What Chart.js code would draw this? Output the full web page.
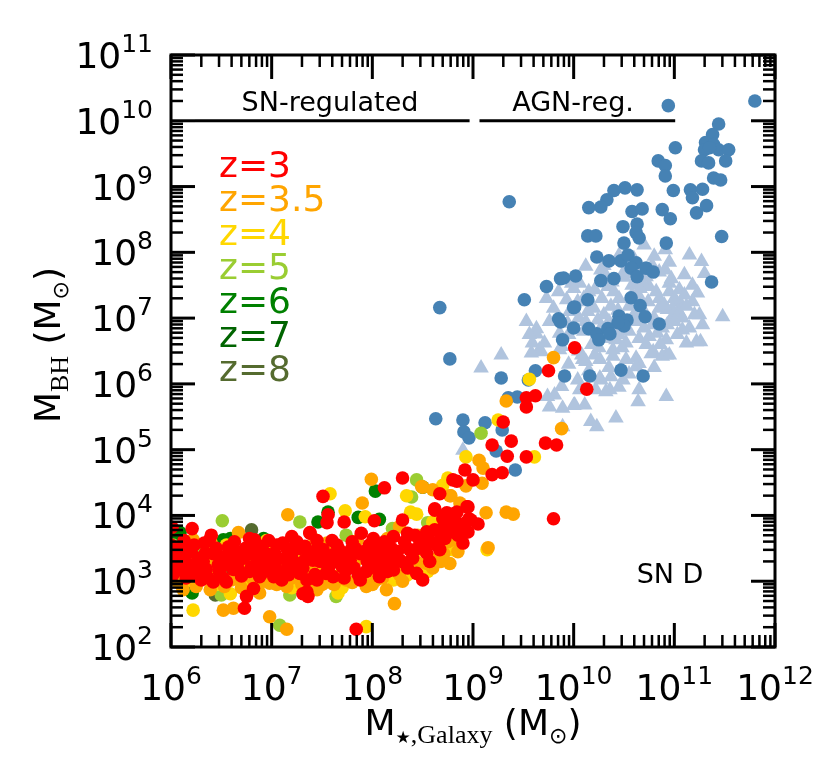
<!DOCTYPE html>
<html>
<head>
<meta charset="utf-8">
<script src="https://cdn.jsdelivr.net/npm/chart.js@4.4.0/dist/chart.umd.min.js"></script>
<style>
  html, body { margin: 0; padding: 0; background: #fff; }
</style>
</head>
<body>
<canvas id="chart" width="831" height="769"></canvas>
<script>
// all point values are log10(M / Msun): [log M*, log MBH]
const logZ3 = [
  [10.01,6.55],[9.75,6.20],[10.13,5.92],[9.53,5.79],[9.62,5.82],[9.53,5.65],[9.30,5.42],[9.38,5.13],
  [9.19,5.07],[9.72,5.10],[9.83,5.07],[9.34,4.90],[9.53,4.89],[9.29,4.65],[9.19,4.62],[9.00,4.54],
  [8.92,4.69],[8.84,4.52],[8.67,4.33],[8.62,4.10],[8.76,4.02],[8.81,4.02],[8.95,4.13],[8.96,3.95],
  [9.05,3.87],[9.80,3.95],[8.80,4.54],[8.74,4.04],[8.84,4.05],[8.94,4.13],[8.30,4.57],[8.12,4.42],
  [7.51,4.29],[7.55,3.89],[7.56,4.01],[7.72,3.90],[8.02,3.92],[8.30,3.93],[8.62,4.08],[8.88,3.81],
  [6.21,3.80],[6.40,3.70],[6.38,3.62],[6.78,3.65],[6.83,3.63],[7.05,3.55],[7.20,3.68],[7.25,3.60],
  [7.33,3.53],[7.38,3.73],[7.89,3.73],[8.01,3.65],[7.97,3.55],[8.12,3.60],[8.21,3.68],[8.35,3.73],
  [8.42,3.70],[8.54,3.75],[8.62,3.78],[8.70,3.80],[8.77,3.88],[8.88,3.80],[8.98,3.93],[8.90,3.58],
  [8.67,3.48],[8.54,3.43],[8.45,3.50],[8.37,3.48],[8.27,3.32],[8.21,3.30],[8.17,3.40],[8.07,3.45],
  [8.01,3.37],[7.88,3.42],[7.79,3.48],[7.78,3.32],[7.69,3.37],[7.61,3.40],[7.51,3.48],[7.48,3.30],
  [7.41,3.32],[7.33,3.32],[7.20,3.42],[7.13,3.35],[7.05,3.32],[6.98,3.40],[6.92,3.45],[6.85,3.37],
  [6.78,3.42],[6.72,3.35],[6.65,3.45],[6.60,3.32],[6.50,3.37],[6.42,3.42],[6.34,3.42],[6.27,3.35],
  [6.16,3.27],[6.07,3.27],[6.09,3.17],[6.25,3.12],[6.30,3.02],[6.42,2.99],[6.55,2.99],[6.67,3.17],
  [6.78,3.15],[6.88,3.07],[7.02,3.07],[7.10,3.02],[7.16,3.22],[7.28,3.12],[7.35,3.02],[7.35,2.84],
  [7.45,3.02],[7.54,3.12],[7.61,3.07],[7.74,3.17],[7.88,3.02],[7.94,3.15],[8.07,3.07],[8.21,3.17],
  [8.29,3.30],[8.44,3.12],[8.50,3.02],[7.31,2.81],[7.36,2.77],[6.75,2.77],[6.73,2.59],[6.82,2.89],
  [7.84,2.27],[6.02,3.50],[6.12,3.55],[6.20,3.45],[6.47,3.25],[6.57,3.52],[6.62,3.18],[6.90,3.25],
  [7.00,3.20],[7.15,3.50],[7.25,3.18],[7.42,3.45],[7.58,3.25],[7.65,3.55],[7.72,3.05],[7.82,3.20],
  [7.95,3.30],[8.05,3.20],[8.12,3.28],[8.35,3.20],[8.58,3.60],[8.72,3.65],[8.85,3.70],[8.95,3.75],
  [6.02,3.10],[6.15,3.05],[6.35,3.18],[6.55,3.25],[7.45,3.62],[7.60,3.62],[7.80,3.60],[6.03,3.35],
  [6.00,3.55],[6.01,3.82],[7.38,3.74],
  [6.05,3.20],[6.10,3.38],[6.13,3.62],[6.18,3.10],[6.23,3.55],[6.26,3.22],[6.32,3.30],[6.33,3.58],
  [6.37,3.05],[6.45,3.50],[6.48,3.15],[6.52,3.05],[6.58,3.40],[6.63,3.60],[6.66,3.27],[6.70,3.08],
  [6.74,3.50],[6.80,3.22],[6.86,3.55],[6.90,3.12],[6.95,3.30],[6.97,3.62],[7.03,3.42],[7.07,3.15],
  [7.11,3.58],[7.17,3.10],[7.22,3.30],[7.28,3.50],[7.31,3.20],[7.37,3.40],[7.43,3.10],[7.47,3.50],
  [7.52,3.38],[7.56,3.18],[7.63,3.30],[7.67,3.48],[7.70,3.22],[7.76,3.40],[7.83,3.50],[7.86,3.10],
  [7.92,3.45],[7.98,3.20],[8.03,3.55],[8.09,3.35],[8.15,3.15],[8.19,3.50],[8.25,3.45],[8.32,3.60],
  [8.40,3.35],[8.47,3.62],[8.52,3.55],[8.57,3.30],[8.64,3.55],[8.68,3.70],[8.80,3.75],[8.83,3.90],
  [8.92,3.88],[8.70,3.95]
];
const logZ35 = [
  [6.07,2.99],[6.22,3.07],[6.49,3.10],[6.68,3.02],[6.88,2.82],[7.15,2.92],[7.41,2.92],[7.56,2.99],
  [7.68,3.10],[8.04,3.02],[8.27,3.10],[8.54,3.27],[8.64,3.35],[8.77,3.27],[6.52,2.56],[6.62,2.59],
  [6.98,2.46],[7.15,2.27],[8.22,2.66],[6.22,3.63],[6.67,3.74],[7.43,3.63],[7.16,4.01],[7.90,4.19],
  [7.99,4.55],[8.50,4.43],[8.80,3.63],[8.71,3.42],[6.45,3.27],[6.75,3.25],[6.96,3.19],[7.25,3.25],
  [7.40,3.17],[7.71,3.25],[7.84,3.32],[8.14,3.22],[8.40,3.37],[6.29,3.22],[6.00,3.37],[6.11,3.48],
  [6.02,3.12],[6.82,3.02],[7.94,2.92],[7.74,3.02],[7.45,2.87],[8.14,2.87],[7.58,3.53],[8.27,3.83],
  [7.08,3.17],[6.98,2.97],[6.39,2.87],[6.12,2.87],[9.06,4.84],[9.10,4.72],[9.09,4.49],[8.93,4.45],
  [9.33,4.05],[9.40,4.02],[9.13,4.04],[9.88,5.32],[9.33,5.74],[8.87,4.19],[8.78,4.30],[8.60,4.39],
  [9.15,3.51],[8.49,4.44],[8.77,4.30],[8.88,4.16],[9.80,6.40],
  [6.04,3.05],[6.10,2.95],[6.17,3.35],[6.25,2.92],[6.33,3.05],[6.43,3.12],[6.53,2.92],[6.60,3.02],
  [6.70,2.90],[6.78,3.08],[6.92,3.00],[7.05,2.95],[7.20,3.05],[7.30,2.95],[7.38,3.10],[7.50,2.95],
  [7.62,2.95],[7.80,2.98],[7.90,3.08],[8.00,2.95],[8.10,3.05],[8.30,3.00],[8.38,3.20],[8.45,3.28],
  [8.60,3.20],[8.68,3.30],[8.85,3.45],[6.40,3.58],[6.60,3.55],[6.95,3.50],[7.25,3.55],[7.55,3.58],
  [7.85,3.62],[8.15,3.65],[8.45,3.70],[8.75,3.60]
];
const logZ4 = [
  [6.22,2.56],[6.59,2.81],[7.66,2.82],[7.94,2.31],[6.55,3.55],[7.73,4.07],[7.58,4.33],[7.93,3.98],
  [8.34,4.30],[8.38,4.05],[8.44,4.02],[8.70,4.46],[8.80,3.48],[6.09,3.53],[6.35,3.12],[6.88,3.48],
  [7.28,3.37],[7.61,3.02],[8.01,3.22],[8.21,3.02],[8.47,3.48],[7.15,3.17],[6.72,2.97],[9.61,4.89],
  [9.25,5.45],[8.93,4.89],[8.75,4.57],[9.56,6.07],[9.14,3.48],[6.05,3.25],[6.40,3.35],[7.50,3.20],
  [8.75,3.55],[8.60,3.90],[6.95,3.62],
  [6.15,3.00],[6.45,2.95],[6.85,3.15],[7.20,2.90],[7.40,3.00],[7.70,2.90],[8.00,3.10],[8.35,3.10],
  [8.55,3.15],[6.30,3.30]
];
const logZ5 = [
  [6.51,3.92],[7.28,3.90],[7.74,3.70],[8.44,4.54],[8.39,4.28],[8.55,3.89],[7.08,2.33],[7.18,2.79],
  [6.83,2.92],[6.50,2.79],[7.64,2.77],[6.02,3.55],[9.08,5.25],[6.30,3.50],[8.20,3.80]
];
const logZ6 = [
  [6.09,3.74],[6.52,3.63],[6.59,3.65],[6.92,3.65],[6.98,3.55],[7.46,3.90],[7.56,4.05],[7.86,3.97],
  [8.03,4.37],[8.50,4.43],[6.21,2.82],[8.07,3.94],[6.03,3.65]
];
const logZ7 = [[6.15,3.40],[6.70,3.30],[7.00,3.50],[6.35,3.10]];
const logZ8 = [[6.80,3.78],[6.44,2.79],[6.60,3.15]];
const logAgnCircles = [
  [10.94,10.23],[11.80,10.30],[11.44,9.95],[11.38,9.79],[11.31,9.67],[11.39,9.64],[11.44,9.56],[11.30,9.56],
  [11.35,9.59],[11.01,9.59],[11.54,9.56],[10.84,9.39],[10.91,9.32],[10.91,9.16],[11.27,9.39],[11.34,9.36],
  [11.51,9.39],[11.39,9.13],[11.46,9.10],[10.51,8.98],[10.40,8.94],[10.63,8.95],[10.99,8.94],[11.16,8.95],
  [11.18,8.83],[11.28,8.96],[10.33,8.80],[10.27,8.69],[10.15,8.68],[10.58,8.62],[10.68,8.66],[10.88,8.65],
  [11.22,8.60],[11.32,8.71],[10.96,8.51],[10.49,8.39],[10.63,8.43],[10.62,8.30],[10.65,8.22],[10.14,8.25],
  [10.22,8.25],[10.50,8.14],[10.92,8.14],[11.47,8.24],[9.36,8.77],[9.73,7.48],[9.87,7.60],[9.90,7.61],
  [10.02,7.64],[10.23,7.93],[10.35,7.87],[10.47,7.87],[10.54,7.96],[10.62,7.84],[10.57,7.76],[10.63,7.63],
  [10.72,7.76],[10.79,7.70],[10.27,7.57],[10.40,7.60],[11.37,7.55],[10.14,7.28],[10.00,7.16],[10.57,7.31],
  [10.66,7.19],[10.45,7.03],[10.53,6.97],[10.50,6.88],[10.44,6.93],[10.71,7.02],[10.85,6.91],[9.85,6.99],
  [9.87,6.94],[10.00,6.85],[10.15,6.84],[10.23,6.76],[10.25,6.67],[10.34,6.84],[10.36,6.76],[9.89,6.67],
  [10.47,6.21],[9.51,7.28],[10.01,7.17],[9.62,6.20],[9.55,6.06],[9.28,6.09],[9.91,6.12],[10.16,6.12],
  [10.69,6.12],[9.35,5.79],[9.44,5.80],[8.90,5.45],[9.12,5.41],[8.91,5.27],[8.96,5.18],[9.29,5.30],
  [9.23,4.98],[9.42,4.69],[8.63,5.47],[8.67,7.16],[8.77,6.38]
];
const logAgnTriangles = [
  [10.12,7.79],[10.27,7.73],[10.49,7.68],[10.72,7.63],[10.80,7.94],[10.91,8.04],[10.91,7.73],[11.10,7.66],
  [11.30,7.68],[10.95,7.53],[11.05,7.43],[11.23,7.38],[11.48,7.02],[11.25,7.05],[11.28,6.90],[11.22,6.64],
  [11.12,6.62],[11.08,6.82],[11.02,7.25],[11.07,7.20],[10.93,7.13],[10.85,7.30],[10.75,7.48],[10.65,7.33],
  [10.45,7.30],[10.34,7.48],[10.21,7.43],[10.06,7.53],[9.98,7.53],[9.73,7.30],[9.93,7.28],[10.04,7.25],
  [10.14,7.10],[10.24,6.97],[10.12,6.95],[9.76,6.95],[9.94,6.92],[10.37,7.18],[10.31,6.69],[10.42,6.67],
  [10.52,6.62],[10.65,6.69],[10.75,6.72],[10.83,6.77],[10.92,6.67],[10.79,6.49],[10.92,6.44],[10.62,6.39],
  [10.39,6.42],[10.21,6.44],[10.09,6.37],[9.66,6.52],[11.18,7.25],[10.98,7.02],[10.55,7.18],[10.26,6.82],
  [10.42,6.87],[11.26,6.64],[10.98,7.13],[11.05,7.08],[11.12,7.18],[10.92,5.81],[10.65,5.91],[10.64,5.73],
  [10.42,5.48],[10.23,5.35],[10.17,5.43],[9.89,5.35],[9.28,6.44],[9.08,6.24],[8.90,4.99],[10.36,5.91],
  [10.22,5.91],[10.01,5.68],[10.11,5.68],[9.89,5.63],[9.76,5.65],[10.04,6.06],[10.26,6.09],[10.37,6.11],
  [10.49,6.06],[10.65,6.31],[10.77,6.46],[10.88,6.42],[10.95,6.44],[10.00,5.67],[9.81,5.83],[9.74,5.81],
  [10.06,5.91],[10.32,5.88],[9.58,6.47],[9.68,6.49],[9.59,6.62],[9.63,6.76],[9.86,6.52],[10.08,6.44],
  [10.12,6.34],[10.26,6.37],[10.39,6.52],[10.52,6.37],[10.62,6.26],[10.27,6.06],[9.88,5.96],[10.70,8.11],
  [11.27,7.86],[11.15,7.96],[9.53,6.95],[9.63,6.84],[9.86,6.77],[9.88,6.57],[9.96,7.10],[9.71,6.62],
  [9.56,6.75],[10.30,7.05],[10.50,6.95],[10.60,7.05],[10.70,7.10],[10.80,7.00],[10.85,7.15],[10.40,7.40],
  [10.58,7.50],[10.68,7.55],[10.20,7.15],[10.10,7.30],[10.45,6.75],[10.70,6.85],[10.88,6.85],[10.95,7.40],
  [11.00,6.95],[10.50,7.62],[10.33,7.62],[10.78,7.80],[10.62,7.70],
  [10.05,7.00],[10.15,7.40],[10.18,6.60],[10.28,7.30],[10.35,6.95],[10.38,7.55],[10.44,7.12],[10.48,6.55],
  [10.55,6.80],[10.58,7.35],[10.63,6.95],[10.66,7.45],[10.72,6.60],[10.74,7.25],[10.78,6.90],[10.82,7.40],
  [10.86,6.60],[10.90,7.20],[10.93,6.90],[10.97,7.60],[11.00,7.30],[11.03,6.75],[11.08,7.00],[11.15,6.85],
  [11.18,7.50],[11.20,7.05],[10.25,6.55],[10.10,6.80],[9.95,6.75],[9.80,7.15],[9.85,7.40],[10.00,7.45],
  [10.30,7.80],[10.45,7.95],[10.60,7.90],[10.85,7.70],[10.95,7.85],[11.10,7.35],[10.15,6.20],[10.35,6.25],
  [10.55,6.15],[10.80,6.25],[10.45,5.95],[10.05,6.50],[9.95,6.30]
];

// regime bars at M_BH = 1e10
const regimeY = 1e10;
const snLineX = [1.73e6, 9.25e8];
const agnLineX = [1.16e9, 1.02e11];

const xTickExponents = [6, 7, 8, 9, 10, 11, 12];
const yTickExponents = [2, 3, 4, 5, 6, 7, 8, 9, 10, 11];
const zLabels = ["z=3", "z=3.5", "z=4", "z=5", "z=6", "z=7", "z=8"];
const zColors = ["#ff0000", "#ffa500", "#ffd700", "#9acd32", "#008000", "#006400", "#556b2f"];
const agnCircleColor = "#4682b4";
const agnTriangleColor = "#b0c4de";

const SANS = "'DejaVu Sans', sans-serif";
const SERIF = "'Liberation Serif', 'DejaVu Serif', serif";

function toXY(pts) {
  return pts.map(function (p) { return { x: Math.pow(10, p[0]), y: Math.pow(10, p[1]) }; });
}

function scatterSet(pts, color, style, radius) {
  return {
    type: "scatter",
    data: toXY(pts),
    backgroundColor: color,
    pointBackgroundColor: color,
    borderWidth: 0,
    pointBorderWidth: 0,
    pointStyle: style,
    pointRadius: radius,
    pointHoverRadius: radius,
  };
}

function lineSet(xs) {
  return {
    type: "line",
    data: xs.map(function (v) { return { x: v, y: regimeY }; }),
    borderColor: "#000",
    borderWidth: 3,
    pointRadius: 0,
    showLine: true,
    fill: false,
  };
}

function runsWidth(ctx, runs) {
  let w = 0;
  runs.forEach(function (r) { ctx.font = r[1]; w += ctx.measureText(r[0]).width; });
  return w;
}
function drawRuns(ctx, runs, x, y) {
  let cx = x;
  runs.forEach(function (r) {
    ctx.font = r[1];
    ctx.fillText(r[0], cx, y + r[2]);
    cx += ctx.measureText(r[0]).width;
  });
}
function powerRuns(e) {
  return [["10", "36px " + SANS, 0], [String(e), "25px " + SANS, -16]];
}

const decorations = {
  id: "decorations",
  afterDatasetsDraw(chart) {
    const ctx = chart.ctx;
    const a = chart.chartArea;
    const x = chart.scales.x;
    const y = chart.scales.y;
    ctx.save();
    ctx.strokeStyle = "#000";
    ctx.lineCap = "butt";

    function seg(x1, y1, x2, y2) {
      ctx.beginPath(); ctx.moveTo(x1, y1); ctx.lineTo(x2, y2); ctx.stroke();
    }
    // inward ticks on all four sides
    xTickExponents.forEach(function (e) {
      for (let k = 1; k <= 9; k++) {
        if (e === xTickExponents[xTickExponents.length - 1] && k > 1) break;
        const px = x.getPixelForValue(k * Math.pow(10, e));
        const len = k === 1 ? 24 : 12;
        ctx.lineWidth = k === 1 ? 3 : 2.5;
        seg(px, a.bottom, px, a.bottom - len);
        seg(px, a.top, px, a.top + len);
      }
    });
    yTickExponents.forEach(function (e) {
      for (let k = 1; k <= 9; k++) {
        if (e === yTickExponents[yTickExponents.length - 1] && k > 1) break;
        const py = y.getPixelForValue(k * Math.pow(10, e));
        const len = k === 1 ? 24 : 12;
        ctx.lineWidth = k === 1 ? 3 : 2.5;
        seg(a.left, py, a.left + len, py);
        seg(a.right, py, a.right - len, py);
      }
    });
    ctx.lineWidth = 3;
    ctx.strokeRect(a.left, a.top, a.right - a.left, a.bottom - a.top);

    // tick labels
    ctx.fillStyle = "#000";
    ctx.textBaseline = "alphabetic";
    ctx.textAlign = "left";
    xTickExponents.forEach(function (e) {
      const px = x.getPixelForValue(Math.pow(10, e));
      const runs = powerRuns(e);
      const w = runsWidth(ctx, runs);
      drawRuns(ctx, runs, px - w / 2, 700);
    });
    yTickExponents.forEach(function (e) {
      const py = y.getPixelForValue(Math.pow(10, e));
      const runs = powerRuns(e);
      const w = runsWidth(ctx, runs);
      drawRuns(ctx, runs, 153 - w, py + 13);
    });

    // axis titles
    const xt = [
      ["M", "36px " + SANS, 0],
      ["\u2605", "17px " + SANS, 8],
      [",Galaxy", "26px " + SERIF, 8],
      [" (M", "36px " + SANS, 0],
      ["\u2299", "22px " + SANS, 8],
      [")", "36px " + SANS, 0],
    ];
    const xw = runsWidth(ctx, xt);
    drawRuns(ctx, xt, 473 - xw / 2, 735);

    const yt = [
      ["M", "36px " + SANS, 0],
      ["BH", "26px " + SERIF, 8],
      [" (M", "36px " + SANS, 0],
      ["\u2299", "22px " + SANS, 8],
      [")", "36px " + SANS, 0],
    ];
    ctx.save();
    ctx.translate(60, 345);
    ctx.rotate(-Math.PI / 2);
    const yw = runsWidth(ctx, yt);
    drawRuns(ctx, yt, -yw / 2, 0);
    ctx.restore();

    // regime labels
    const barPy = y.getPixelForValue(regimeY);
    ctx.font = "27px " + SANS;
    ctx.textAlign = "center";
    ctx.fillText("SN-regulated", 330, barPy - 10);
    ctx.fillText("AGN-reg.", 573, barPy - 10);
    ctx.fillText("SN D", 670, 583);

    // redshift legend
    ctx.textAlign = "left";
    ctx.font = "36px " + SANS;
    zLabels.forEach(function (t, i) {
      ctx.fillStyle = zColors[i];
      ctx.fillText(t, 219, 177 + i * 34);
    });
    ctx.restore();
  },
};

const markerR = 6.8;
const datasets = [
  lineSet(snLineX),
  lineSet(agnLineX),
  scatterSet(logZ3, zColors[0], "circle", markerR),
  scatterSet(logZ35, zColors[1], "circle", markerR),
  scatterSet(logZ4, zColors[2], "circle", markerR),
  scatterSet(logZ5, zColors[3], "circle", markerR),
  scatterSet(logZ6, zColors[4], "circle", markerR),
  scatterSet(logZ7, zColors[5], "circle", markerR),
  scatterSet(logZ8, zColors[6], "circle", markerR),
  scatterSet(logAgnCircles, agnCircleColor, "circle", markerR),
  scatterSet(logAgnTriangles, agnTriangleColor, "triangle", 9),
];

new Chart(document.getElementById("chart"), {
  type: "scatter",
  data: { datasets: datasets },
  options: {
    responsive: false,
    devicePixelRatio: 1,
    animation: false,
    layout: { padding: { left: 171, right: 56, top: 55, bottom: 122 } },
    plugins: { legend: { display: false }, tooltip: { enabled: false } },
    scales: {
      x: { type: "logarithmic", min: 1e6, max: 1e12, display: false },
      y: { type: "logarithmic", min: 1e2, max: 1e11, display: false },
    },
  },
  plugins: [decorations],
});
</script>
</body>
</html>
